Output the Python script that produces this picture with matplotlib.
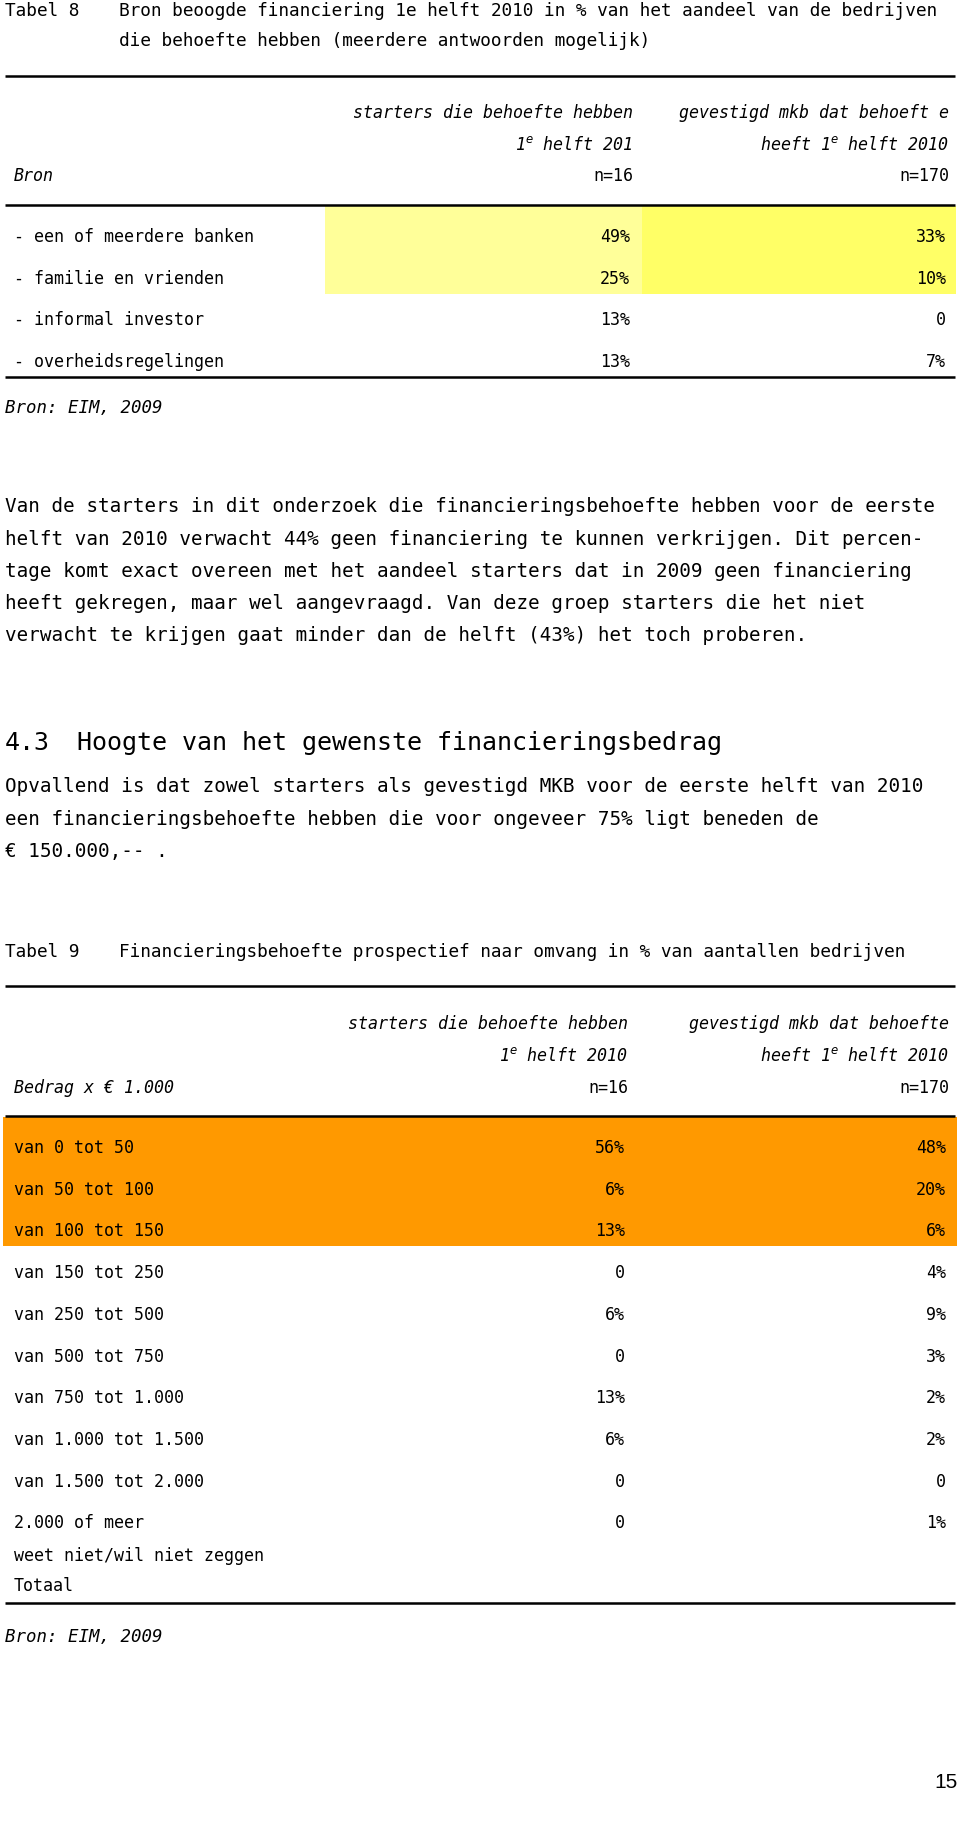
import matplotlib
matplotlib.use('Agg')
import matplotlib.pyplot as plt

# --- data -----------------------------------------------------------------
t8_title = ["Bron beoogde financiering 1e helft 2010 in % van het aandeel van de bedrijven",
            "die behoefte hebben (meerdere antwoorden mogelijk)"]
t8_rows = ["- een of meerdere banken", "- familie en vrienden",
           "- informal investor", "- overheidsregelingen"]
t8_starters = [49, 25, 13, 13]
t8_mkb = [33, 10, 0, 7]
t8_header_starters = ["starters die behoefte hebben", "1$^e$ helft 201", "n=16"]
t8_header_mkb = ["gevestigd mkb dat behoeft e", "heeft 1$^e$ helft 2010", "n=170"]

para1 = ["Van de starters in dit onderzoek die financieringsbehoefte hebben voor de eerste",
         "helft van 2010 verwacht 44% geen financiering te kunnen verkrijgen. Dit percen-",
         "tage komt exact overeen met het aandeel starters dat in 2009 geen financiering",
         "heeft gekregen, maar wel aangevraagd. Van deze groep starters die het niet",
         "verwacht te krijgen gaat minder dan de helft (43%) het toch proberen."]
heading = ("4.3", "Hoogte van het gewenste financieringsbedrag")
para2 = ["Opvallend is dat zowel starters als gevestigd MKB voor de eerste helft van 2010",
         "een financieringsbehoefte hebben die voor ongeveer 75% ligt beneden de",
         "€ 150.000,-- ."]

t9_title = "Financieringsbehoefte prospectief naar omvang in % van aantallen bedrijven"
t9_rows = ["van 0 tot 50", "van 50 tot 100", "van 100 tot 150", "van 150 tot 250",
           "van 250 tot 500", "van 500 tot 750", "van 750 tot 1.000",
           "van 1.000 tot 1.500", "van 1.500 tot 2.000", "2.000 of meer"]
t9_starters = [56, 6, 13, 0, 6, 0, 13, 6, 0, 0]
t9_mkb = [48, 20, 6, 4, 9, 3, 2, 2, 0, 1]
t9_extra = ["weet niet/wil niet zeggen", "Totaal"]
t9_header_starters = ["starters die behoefte hebben", "1$^e$ helft 2010", "n=16"]
t9_header_mkb = ["gevestigd mkb dat behoefte", "heeft 1$^e$ helft 2010", "n=170"]

page_number = "15"


def fmt(v):
    return "0" if v == 0 else f"{v}%"


# --- layout ---------------------------------------------------------------
MONO = 'DejaVu Sans Mono'
fig = plt.figure(figsize=(9.6, 18.26), dpi=100)
ax = fig.add_axes([0, 0, 1, 1])
ax.set_xlim(0, 960)
ax.set_ylim(1826, 0)
ax.axis('off')

X_LEFT, X_RIGHT = 5, 955
X_COL1 = 14
X_ST, X_MKB = 630, 946        # right edges of number columns
ROW_H = 41.7


def txt(x, y, s, size, ha='left', style='normal'):
    ax.text(x, y, s, fontsize=size, ha=ha, va='center', family=MONO,
            style=style, color='black')


def rule(y):
    ax.plot([X_LEFT, X_RIGHT], [y, y], color='black', lw=1.8,
            solid_capstyle='butt')


# Tabel 8
txt(5, 11, "Tabel 8", 12.8)
for i, line in enumerate(t8_title):
    txt(119, 11 + i * 30, line, 12.8)
rule(76)
for i, (a, b) in enumerate(zip(t8_header_starters, t8_header_mkb)):
    y = 113 + i * 31.5
    txt(X_ST + 3, y, a, 12, ha='right', style='italic' if i < 2 else 'normal')
    txt(X_MKB + 3, y, b, 12, ha='right', style='italic' if i < 2 else 'normal')
txt(X_COL1, 176, "Bron", 12, style='italic')
rule(205)
t8_y = [237 + i * ROW_H for i in range(len(t8_rows))]
# highlighted rows (first two)
ax.fill_between([325, 642], 206, t8_y[1] + 15, color='#FFFF99', lw=0)
ax.fill_between([642, 956], 206, t8_y[1] + 15, color='#FFFF66', lw=0)
for y, name, s, m in zip(t8_y, t8_rows, t8_starters, t8_mkb):
    txt(X_COL1, y, name, 12)
    txt(X_ST, y, fmt(s), 12, ha='right')
    txt(X_MKB, y, fmt(m), 12, ha='right')
rule(377)
txt(5, 408, "Bron: EIM, 2009", 12.5, style='italic')

# Body text
for i, line in enumerate(para1):
    txt(5, 507 + i * 32.2, line, 13.9)
txt(5, 743, heading[0], 18)
txt(77, 743, heading[1], 18)
for i, line in enumerate(para2):
    txt(5, 787 + i * 32.5, line, 13.9)

# Tabel 9
txt(5, 952, "Tabel 9", 12.8)
txt(119, 952, t9_title, 12.8)
rule(986)
for i, (a, b) in enumerate(zip(t9_header_starters, t9_header_mkb)):
    y = 1024 + i * 32
    txt(X_ST - 2, y, a, 12, ha='right', style='italic' if i < 2 else 'normal')
    txt(X_MKB + 3, y, b, 12, ha='right', style='italic' if i < 2 else 'normal')
txt(X_COL1, 1088, "Bedrag x € 1.000", 12, style='italic')
rule(1116)
t9_y = [1148 + i * ROW_H for i in range(len(t9_rows))]
ax.fill_between([3, 957], 1117, t9_y[2] + 15, color='#FF9900', lw=0)
for y, name, s, m in zip(t9_y, t9_rows, t9_starters, t9_mkb):
    txt(X_COL1, y, name, 12)
    txt(X_ST - 5, y, fmt(s), 12, ha='right')
    txt(X_MKB, y, fmt(m), 12, ha='right')
for i, name in enumerate(t9_extra):
    txt(X_COL1, t9_y[-1] + 33 + i * 30, name, 12)
rule(1603)
txt(5, 1637, "Bron: EIM, 2009", 12.5, style='italic')

# page number
ax.text(958, 1783, page_number, fontsize=15, ha='right', va='center',
        family='Liberation Sans')

fig.savefig('out.png', dpi=100, facecolor='white')
